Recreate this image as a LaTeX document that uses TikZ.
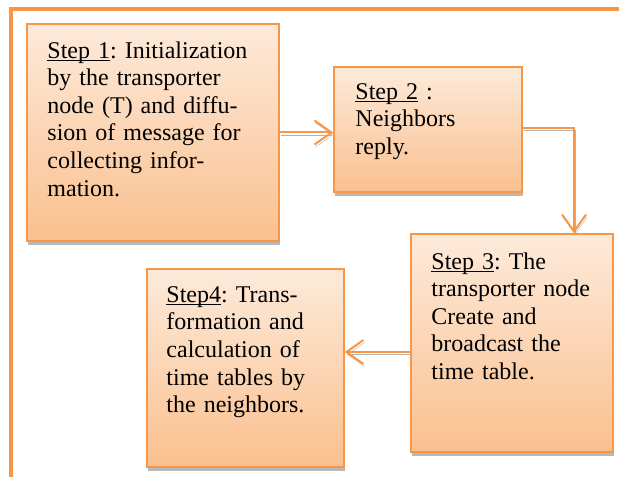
\documentclass[tikz,border=0pt]{standalone}
\usepackage{fontspec}
\setmainfont{Liberation Serif}
\usepackage{tikz}
\usetikzlibrary{arrows.meta}
\usetikzlibrary{shadows}
\usetikzlibrary{calc}
\frenchspacing
\newlength\ulwd
\newcommand\stepul[1]{\settowidth{\ulwd}{#1}\rlap{\rule[-2.8pt]{\ulwd}{1pt}}#1}
\definecolor{accent}{RGB}{247,150,70}
\definecolor{peachtop}{RGB}{253,234,218}
\definecolor{peachbot}{RGB}{250,192,143}
\tikzstyle{stepbox}=[rectangle,draw=accent,line width=1.5pt,top color=peachtop,bottom color=peachbot,inner sep=0pt,drop shadow={shadow xshift=1pt,shadow yshift=-4pt,fill=gray!70,opacity=0.8}]
\tikzstyle{steptext}=[anchor=north west,inner sep=0pt,align=left,font=\fontsize{24}{27.6}\selectfont]
\tikzstyle{flow}=[draw=accent,line width=2pt,-{Straight Barb[length=17pt,width=24pt,line width=2pt]},preaction={draw=gray!60,transform canvas={xshift=1pt,yshift=-2.5pt}}]
\tikzset{every picture/.style={
    x=1pt,y=1pt
  }
}

\begin{document}
\begin{tikzpicture}
      \useasboundingbox (0,0) rectangle (619,477);
      \draw[accent,line width=4pt] (619,468) -- (10.5,468) -- (10.5,0);
      \node[stepbox,minimum width=252pt,minimum height=217pt] at (153,344.5) (s1) {};
      \node[stepbox,minimum width=188pt,minimum height=125pt] at (428,347.5) (s2) {};
      \node[stepbox,minimum width=202pt,minimum height=218pt] at (512,134) (s3) {};
      \node[stepbox,minimum width=197pt,minimum height=198pt] at (245.5,109) (s4) {};
      \node[steptext,text width=225pt] at ([xshift=21pt,yshift=-18pt]s1.north west) (t1)
        {\stepul{Step 1}: Initialization\\ by the transporter\\ node (T) and diffu-\\ sion of message for\\ collecting infor-\\ mation.};
      \node[steptext,text width=160pt] at ([xshift=22pt,yshift=-17pt]s2.north west) (t2)
        {\stepul{Step 2} :\\ Neighbors\\ reply.};
      \node[steptext,text width=178pt] at ([xshift=21pt,yshift=-19pt]s3.north west) (t3)
        {\stepul{Step 3}: The\\ transporter node\\ Create and\\ broadcast the\\ time table.};
      \node[steptext,text width=175pt] at ([xshift=20pt,yshift=-18pt]s4.north west) (t4)
        {\stepul{Step4}: Trans-\\ formation and\\ calculation of\\ time tables by\\ the neighbors.};
      \draw[flow] (s1.east) -- (s1.east -| s2.west);
      \draw[flow] ([yshift=1.5pt]s2.east) -| ($(s3.north)!0.61!(s3.north east)$);
      \draw[flow] ([yshift=-9pt]s3.west) -- ([yshift=-9pt]s3.west -| s4.east);
    \end{tikzpicture}
\end{document}
